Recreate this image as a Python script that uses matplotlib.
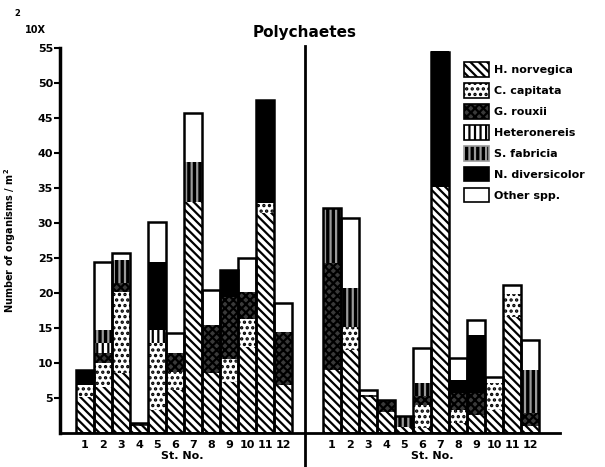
import matplotlib
matplotlib.use("Agg")
import matplotlib.pyplot as plt
from matplotlib.patches import Patch
from matplotlib.lines import Line2D
import numpy as np

stations = list(range(1, 13))
species = ['H. norvegica', 'C. capitata', 'G. rouxii', 'Heteronereis',
           'S. fabricia', 'N. diversicolor', 'Other spp.']

# left panel (x10^2 organisms / m^2), one list per species, stations 1..12
left_hn = [5.2, 6.6, 8.6, 1.0, 3.3, 6.1, 33.0, 8.6, 7.3, 12.3, 31.5, 6.9]
left_cc = [1.6, 3.4, 11.5, 0, 9.6, 2.6, 0, 0, 3.3, 4.0, 1.3, 0]
left_gr = [0, 1.4, 1.3, 0.4, 0, 2.7, 0, 6.8, 8.8, 3.8, 0, 7.5]
left_het = [0, 1.5, 0, 0, 1.8, 0, 0, 0, 0, 0, 0, 0]
left_sf = [0, 1.8, 3.3, 0, 0, 0, 5.7, 0, 0, 0, 0, 0]
left_nd = [2.2, 0, 0, 0, 9.7, 0, 0, 0, 3.9, 0, 14.8, 0]
left_oth = [0, 9.7, 1.0, 0, 5.7, 2.9, 7.0, 5.0, 0, 4.9, 0, 4.2]

# right panel
right_hn = [9.0, 11.9, 5.1, 3.0, 0.8, 0.7, 35.1, 1.4, 2.6, 3.3, 16.6, 1.0]
right_cc = [0, 3.2, 0, 0, 0, 3.3, 0, 1.9, 0, 3.8, 3.2, 0]
right_gr = [15.3, 0, 0.4, 1.7, 0, 1.3, 0, 2.4, 3.1, 0, 0, 1.9]
right_het = [0, 0, 0, 0, 0, 0, 0, 0, 0, 0, 0, 0]
right_sf = [7.8, 5.6, 0, 0, 1.6, 1.8, 0, 0, 0, 0, 0, 6.1]
right_nd = [0, 0, 0, 0, 0, 0, 19.4, 1.9, 8.3, 0, 0, 0]
right_oth = [0, 10.0, 0.6, 0, 0, 5.0, 0, 3.1, 2.1, 0.9, 1.3, 4.3]

yticks = [5, 10, 15, 20, 25, 30, 35, 40, 45, 50, 55]

# face colour, hatch, hatch colour for each species
styles = [
    ('white', '\\\\\\\\', 'black'),
    ('white', '...', 'black'),
    ('#3a3a3a', 'xxxx', 'black'),
    ('white', '|||', 'black'),
    ('black', '|||', '#9a9a9a'),
    ('black', '', 'black'),
    ('white', '', 'black'),
]

plt.rcParams['hatch.linewidth'] = 1.6
plt.rcParams['font.family'] = 'DejaVu Sans'
plt.rcParams['font.weight'] = 'bold'

fig = plt.figure(figsize=(6.05, 4.67), dpi=100)
W, H = 605, 467

def panel(ax, data):
    x = np.array(stations)
    bottom = np.zeros(len(x))
    for vals, (fc, hatch, hc) in zip(data, styles):
        vals = np.array(vals, dtype=float)
        ax.bar(x, vals, width=1.0, bottom=bottom, color=fc, hatch=hatch,
               edgecolor=hc, linewidth=0)
        bottom += vals
    # outline of every stack
    ax.bar(x, bottom, width=1.0, fill=False, edgecolor='black', linewidth=1.8)
    ax.set_ylim(0, 55)
    ax.set_xticks(x)
    ax.set_xticklabels([str(s) for s in stations], fontsize=8, fontweight='bold')
    ax.tick_params(axis='x', length=0, pad=5)
    ax.set_xlabel('St. No.', fontsize=8, fontweight='bold', labelpad=1)
    ax.spines['top'].set_visible(False)
    ax.spines['right'].set_visible(False)
    ax.spines['bottom'].set_linewidth(2)

ax1 = fig.add_axes([60 / W, 34 / H, 245 / W, 385 / H])
panel(ax1, [left_hn, left_cc, left_gr, left_het, left_sf, left_nd, left_oth])
ax1.set_xlim(-0.39, 13.22)
ax1.set_yticks(yticks)
ax1.set_yticklabels([str(t) for t in yticks], fontsize=8, fontweight='bold')
ax1.tick_params(axis='y', length=4, width=1.5, pad=1)
ax1.spines['left'].set_linewidth(2.5)
ax1.set_ylabel('Number of organisms / m$^2$', fontsize=7, fontweight='bold')
ax1.yaxis.set_label_coords(-0.17, 0.5)

ax2 = fig.add_axes([305 / W, 34 / H, 255 / W, 385 / H])
panel(ax2, [right_hn, right_cc, right_gr, right_het, right_sf, right_nd, right_oth])
ax2.set_xlim(-0.5, 13.67)
ax2.spines['left'].set_visible(False)
ax2.set_yticks([])

# vertical divider between the two panels
fig.add_artist(Line2D([305 / W, 305 / W], [0, 1 - 46 / H],
                      transform=fig.transFigure, color='black', linewidth=2))

fig.text(305 / W, 1 - 32 / H, 'Polychaetes', ha='center', va='center',
         fontsize=11, fontweight='bold')
fig.text(17 / W, 1 - 14 / H, '2', ha='center', va='center', fontsize=6,
         fontweight='bold')
fig.text(35 / W, 1 - 30 / H, '10X', ha='center', va='center', fontsize=7,
         fontweight='bold')

handles = [Patch(facecolor=fc, hatch=h, edgecolor=hc, linewidth=1.2)
           for fc, h, hc in styles]
fig.legend(handles, species, loc='upper left',
           bbox_to_anchor=(460 / W, 1 - 58 / H), frameon=False,
           fontsize=8, handlelength=2.2, handleheight=1.6,
           labelspacing=0.6, handletextpad=0.5, borderaxespad=0)

fig.savefig('out.png', dpi=100)
